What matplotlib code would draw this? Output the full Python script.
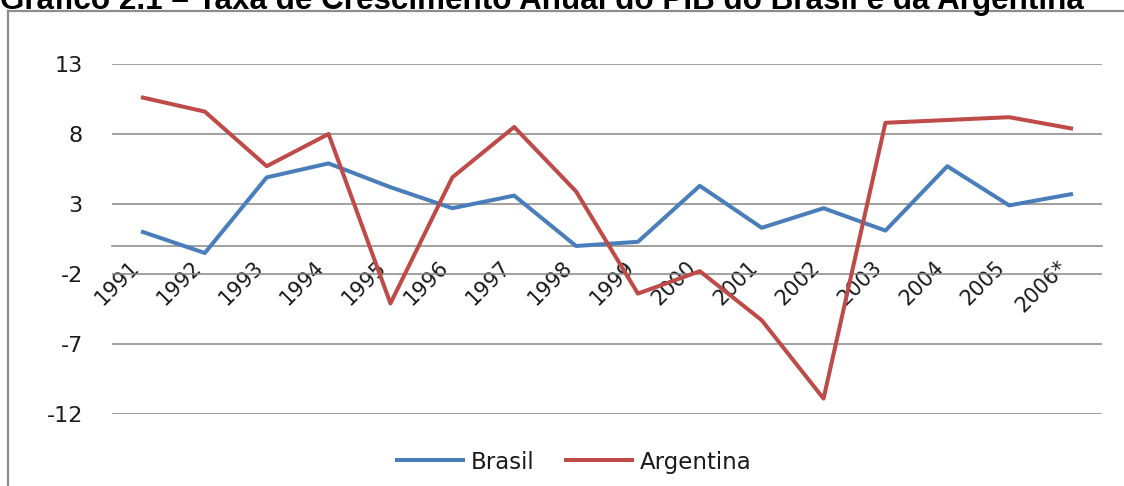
import matplotlib
matplotlib.use("Agg")
import matplotlib.pyplot as plt
import matplotlib.transforms as mtransforms
from matplotlib.lines import Line2D

anos = ["1991", "1992", "1993", "1994", "1995", "1996", "1997", "1998",
        "1999", "2000", "2001", "2002", "2003", "2004", "2005", "2006*"]
brasil = [1.0, -0.5, 4.9, 5.9, 4.2, 2.7, 3.6, 0.0,
          0.3, 4.3, 1.3, 2.7, 1.1, 5.7, 2.9, 3.7]
argentina = [10.6, 9.6, 5.7, 8.0, -4.1, 4.9, 8.5, 3.9,
             -3.4, -1.8, -5.3, -10.9, 8.8, 9.0, 9.2, 8.4]
marcas_y = [-12, -7, -2, 3, 8, 13]

W, H = 1124, 486
fig = plt.figure(figsize=(W / 100, H / 100), dpi=100)
ax = fig.add_axes([112 / W, 1 - 414 / H, (1102 - 112) / W, (414 - 64) / H])

cinza = "#868686"
texto = "#1a1a1a"
fonte = "DejaVu Sans"

x = list(range(len(anos)))
lb, = ax.plot(x, brasil, color="#4A7EBB", lw=2.9, label="Brasil", zorder=3)
la, = ax.plot(x, argentina, color="#BE4B48", lw=2.9, label="Argentina", zorder=3)

ax.set_xlim(-0.5, len(anos) - 0.5)
ax.set_ylim(-12, 13)
ax.set_yticks(marcas_y)
ax.set_yticklabels([str(v) for v in marcas_y], fontsize=16, color=texto, family=fonte)
ax.grid(axis="y", color=cinza, lw=1.1)
ax.set_axisbelow(True)

for s in ["top", "right", "left"]:
    ax.spines[s].set_visible(False)
ax.spines["bottom"].set_position(("data", 0))
ax.spines["bottom"].set_color(cinza)
ax.spines["bottom"].set_linewidth(1.1)

ax.set_xticks(x)
ax.set_xticklabels(anos, fontsize=15, color=texto, family=fonte,
                   rotation=45, ha="right", va="center", rotation_mode="anchor")
ax.tick_params(axis="x", length=0, pad=13)
ax.tick_params(axis="y", length=0, pad=21)

# desloca os rótulos dos anos um pouco para a esquerda
desloc = mtransforms.ScaledTranslation(-7 / 100, 0, fig.dpi_scale_trans)
for rot in ax.get_xticklabels():
    rot.set_transform(rot.get_transform() + desloc)

fig.legend([lb, la], ["Brasil", "Argentina"], loc="center",
           bbox_to_anchor=(574 / W, 1 - 462 / H), ncol=2, frameon=False,
           prop={"family": fonte, "size": 16.5}, labelcolor=texto,
           handlelength=2.9, handletextpad=0.3, columnspacing=1.4)

# moldura do gráfico (cortada à direita e embaixo)
fig.add_artist(Line2D([8 / W, 8 / W], [0, 1 - 11 / H], color="#8c8c8c", lw=1.6))
fig.add_artist(Line2D([8 / W, 1], [1 - 11 / H, 1 - 11 / H], color="#8c8c8c", lw=1.6))

fig.text(0.0, 1 - 9 / H,
         "Gráfico 2.1 – Taxa de Crescimento Anual do PIB do Brasil e da Argentina",
         fontsize=22.6, fontweight="bold", family="Liberation Sans",
         ha="left", va="baseline", color="black")

fig.savefig("out.png", dpi=100)
